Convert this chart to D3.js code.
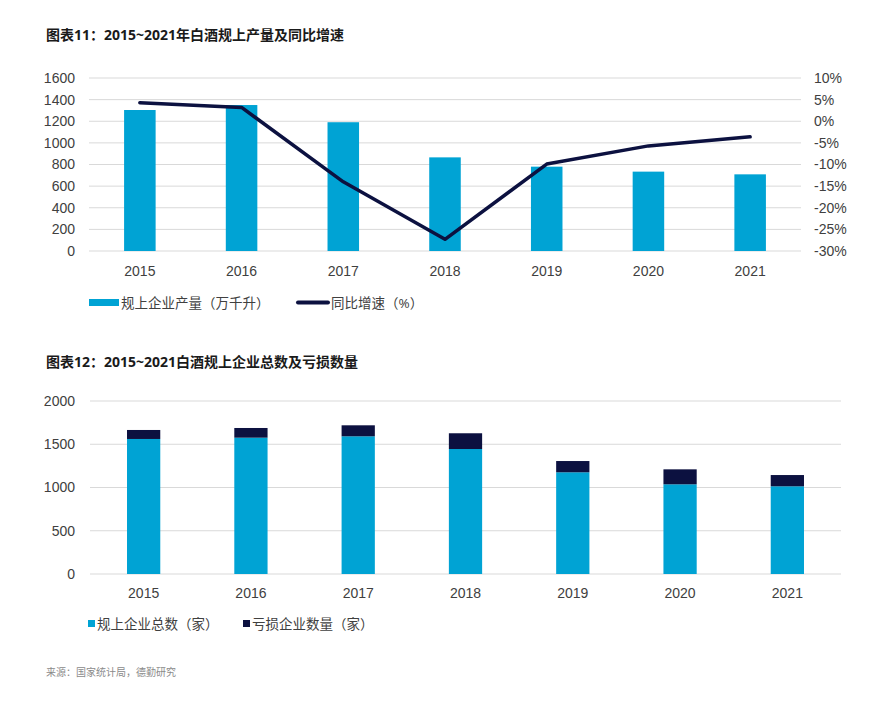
<!DOCTYPE html>
<html>
<head>
<meta charset="utf-8">
<script src="https://cdn.jsdelivr.net/npm/d3@7"></script>
<style>
  body { margin: 0; background: #fff; }
  svg { font-family: "Open Sans", "Noto Sans CJK SC", sans-serif; }
</style>
</head>
<body>
<svg id="chart" width="889" height="707"></svg>
<script>
// Data
const years = ["2015", "2016", "2017", "2018", "2019", "2020", "2021"];
const output = [1304, 1350, 1191, 866, 780, 734, 709];          // 万千升
const growth = [4.3, 3.2, -14.0, -27.3, -9.9, -5.7, -3.6];       // %
const outputTicks = [0, 200, 400, 600, 800, 1000, 1200, 1400, 1600];
const growthTicks = [-30, -25, -20, -15, -10, -5, 0, 5, 10];

const firms = [1561, 1576, 1592, 1445, 1176, 1037, 1014];       // 规上企业总数
const lossFirms = [104, 112, 127, 182, 130, 173, 130];          // 亏损企业数量
const firmTicks = [0, 500, 1000, 1500, 2000];

const blue = "#00a3d4";
const navy = "#0c1140";
const grid = "#d9d9d9";
const textColor = "#404040";

const svg = d3.select("#chart");

// titles
svg.append("text").attr("x", 46).attr("y", 40)
  .attr("font-size", 14).attr("font-weight", "bold").attr("fill", "#1a1a1a")
  .text("图表11：2015~2021年白酒规上产量及同比增速");
svg.append("text").attr("x", 46).attr("y", 367)
  .attr("font-size", 14).attr("font-weight", "bold").attr("fill", "#1a1a1a")
  .text("图表12：2015~2021白酒规上企业总数及亏损数量");

function band(range) {
  return d3.scaleBand().domain(years).range(range).paddingInner(0.69).paddingOuter(0.345);
}

function drawGrid(g, y, ticks, x0, x1) {
  g.selectAll(".grid").data(ticks).enter().append("line")
    .attr("x1", x0).attr("x2", x1)
    .attr("y1", d => y(d)).attr("y2", d => y(d))
    .attr("stroke", grid).attr("stroke-width", 1);
}

function styleAxis(g) {
  g.select(".domain").remove();
  g.selectAll(".tick line").remove();
  g.selectAll(".tick text").attr("fill", textColor).attr("font-size", 14);
}

/*
** CHART 1
*/
const c1 = svg.append("g");
const x1 = band([89, 801]);
const y1 = d3.scaleLinear().domain([0, 1600]).range([251, 78]);
const y1r = d3.scaleLinear().domain([-30, 10]).range([251, 78]);

drawGrid(c1, y1, outputTicks, 89, 801);

c1.selectAll(".bar").data(years).enter().append("rect")
  .attr("x", d => x1(d))
  .attr("width", x1.bandwidth())
  .attr("y", (d, i) => y1(output[i]))
  .attr("height", (d, i) => y1(0) - y1(output[i]))
  .attr("fill", blue);

c1.append("path")
  .datum(growth)
  .attr("d", d3.line().x((d, i) => x1(years[i]) + x1.bandwidth() / 2).y(d => y1r(d)))
  .attr("fill", "none").attr("stroke", navy).attr("stroke-width", 3.5)
  .attr("stroke-linecap", "round").attr("stroke-linejoin", "round");

c1.append("g").attr("transform", "translate(75,0)")
  .call(d3.axisLeft(y1).tickValues(outputTicks).tickFormat(d3.format("d")).tickSize(0).tickPadding(0))
  .call(styleAxis);
c1.append("g").attr("transform", "translate(814,0)")
  .call(d3.axisRight(y1r).tickValues(growthTicks).tickFormat(d => d + "%").tickSize(0).tickPadding(0))
  .call(styleAxis);
c1.append("g").attr("transform", "translate(0,266)")
  .call(d3.axisBottom(x1).tickSize(0).tickPadding(0))
  .call(styleAxis);

// legend 1
c1.append("rect").attr("x", 89).attr("y", 299).attr("width", 30).attr("height", 7).attr("fill", blue);
c1.append("text").attr("x", 121).attr("y", 307.5).attr("font-size", 13.5).attr("fill", textColor)
  .text("规上企业产量（万千升）");
c1.append("line").attr("x1", 298).attr("x2", 328).attr("y1", 302.5).attr("y2", 302.5)
  .attr("stroke", navy).attr("stroke-width", 4).attr("stroke-linecap", "round");
c1.append("text").attr("x", 331).attr("y", 307.5).attr("font-size", 13.5).attr("fill", textColor)
  .text("同比增速（%）");

/*
** CHART 2
*/
const c2 = svg.append("g");
const x2 = band([90, 841]);
const y2 = d3.scaleLinear().domain([0, 2000]).range([574, 401]);

drawGrid(c2, y2, firmTicks, 90, 841);

c2.selectAll(".firm").data(years).enter().append("rect")
  .attr("x", d => x2(d))
  .attr("width", x2.bandwidth())
  .attr("y", (d, i) => y2(firms[i]))
  .attr("height", (d, i) => y2(0) - y2(firms[i]))
  .attr("fill", blue);

c2.selectAll(".loss").data(years).enter().append("rect")
  .attr("x", d => x2(d))
  .attr("width", x2.bandwidth())
  .attr("y", (d, i) => y2(firms[i] + lossFirms[i]))
  .attr("height", (d, i) => y2(firms[i]) - y2(firms[i] + lossFirms[i]))
  .attr("fill", navy);

c2.append("g").attr("transform", "translate(75,0)")
  .call(d3.axisLeft(y2).tickValues(firmTicks).tickFormat(d3.format("d")).tickSize(0).tickPadding(0))
  .call(styleAxis);
c2.append("g").attr("transform", "translate(0,588)")
  .call(d3.axisBottom(x2).tickSize(0).tickPadding(0))
  .call(styleAxis);

// legend 2
c2.append("rect").attr("x", 88).attr("y", 620).attr("width", 7).attr("height", 7).attr("fill", blue);
c2.append("text").attr("x", 97).attr("y", 628.5).attr("font-size", 13.5).attr("fill", textColor)
  .text("规上企业总数（家）");
c2.append("rect").attr("x", 243).attr("y", 620).attr("width", 7).attr("height", 7).attr("fill", navy);
c2.append("text").attr("x", 252).attr("y", 628.5).attr("font-size", 13.5).attr("fill", textColor)
  .text("亏损企业数量（家）");

// source
svg.append("text").attr("x", 46).attr("y", 676).attr("font-size", 10).attr("fill", "#8a8a8a")
  .text("来源：国家统计局，德勤研究");
</script>
</body>
</html>
